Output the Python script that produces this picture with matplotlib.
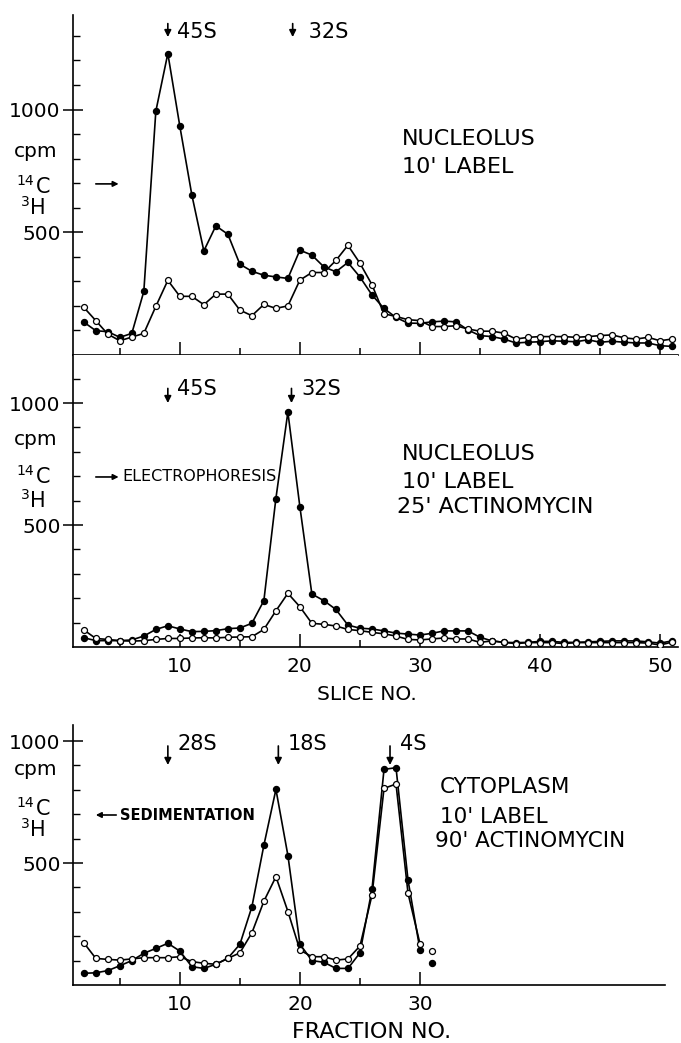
import numpy as np
import matplotlib
matplotlib.use('Agg')
import matplotlib.pyplot as plt

# ---- data (cpm) ----
# nucleolus, 10' label  (slice no. 2..51)
top_x = list(range(2, 52))
top_c14 = [134, 99, 95, 72, 88, 259, 993, 1228, 932, 652, 424, 526, 492, 370, 341, 325, 318, 312,
           427, 407, 359, 339, 377, 318, 245, 190, 153, 130, 129, 135, 138, 135, 102, 79, 75, 65,
           49, 52, 54, 58, 56, 54, 62, 52, 56, 52, 49, 49, 38, 35]
top_h3 = [194, 140, 85, 58, 73, 88, 198, 304, 239, 239, 205, 248, 248, 183, 160, 206, 190, 200,
          305, 336, 336, 385, 447, 374, 287, 168, 157, 144, 140, 116, 116, 119, 106, 97, 97, 89,
          65, 72, 75, 75, 75, 72, 75, 79, 82, 70, 65, 72, 58, 65]

# nucleolus, 10' label, 25' actinomycin
mid_x = list(range(2, 52))
mid_c14 = [38, 26, 26, 26, 29, 45, 72, 87, 74, 63, 64, 67, 75, 78, 97, 190, 608, 963, 575, 217,
           190, 154, 90, 77, 74, 66, 57, 53, 49, 56, 66, 66, 66, 40, 25, 19, 18, 19, 23, 23, 19,
           19, 21, 23, 25, 25, 25, 21, 16, 25]
mid_h3 = [70, 35, 31, 26, 24, 26, 31, 35, 35, 37, 38, 37, 40, 41, 42, 72, 148, 220, 165, 97, 93,
          86, 72, 67, 60, 54, 45, 31, 29, 33, 37, 33, 33, 19, 25, 19, 14, 18, 18, 18, 14, 18, 18,
          18, 18, 18, 18, 16, 8, 20]

# cytoplasm, 10' label, 90' actinomycin (fraction no. 2..30, 31 plotted alone)
bot_x = list(range(2, 31))
bot_c14 = [48, 50, 59, 79, 100, 130, 150, 171, 139, 75, 68, 85, 110, 167, 321, 574, 802, 530,
           167, 100, 93, 68, 68, 132, 393, 884, 891, 430, 143]
bot_h3 = [173, 109, 105, 102, 107, 112, 112, 112, 116, 96, 89, 85, 109, 132, 214, 344, 444, 301,
          143, 116, 116, 102, 107, 160, 369, 806, 824, 376, 168]
bot_last_x = 31
bot_last_c14 = 91
bot_last_h3 = 141

top_peaks = [(9, '45S'), (19.4, ' 32S')]
mid_peaks = [(9, '45S'), (19.3, '32S')]
bot_peaks = [(9, '28S'), (18.2, '18S'), (27.5, '4S')]

W, H = 681, 1043
fig = plt.figure(figsize=(W / 100, H / 100), dpi=100)
plt.rcParams['font.family'] = ['DejaVu Sans']


def box(l, t, r, b):
    return [l / W, 1 - b / H, (r - l) / W, (b - t) / H]


def ftext(px, py, s, **kw):
    fig.text(px / W, 1 - py / H, s, **kw)


def style(ax, xmaj, xmin, ytop, xlabels=True):
    for s in ['top', 'right']:
        ax.spines[s].set_visible(False)
    for s in ['left', 'bottom']:
        ax.spines[s].set_linewidth(1.2)
    ax.set_xticks(xmaj)
    ax.set_xticks(xmin, minor=True)
    ax.set_yticks([500, 1000])
    ax.set_yticks(list(range(100, ytop, 100)), minor=True)
    ax.tick_params(axis='x', which='major', direction='in', length=9.5, width=1.1,
                   labelsize=14.5, pad=7, labelbottom=xlabels)
    ax.tick_params(axis='x', which='minor', direction='in', length=5, width=1.1)
    ax.tick_params(axis='y', which='major', direction='inout', length=14, width=1.1,
                   labelsize=14.5, pad=2)
    ax.tick_params(axis='y', which='minor', direction='in', length=5, width=1.0)


def curves(ax, x, c14, h3):
    ax.plot(x, c14, '-', color='k', lw=1.2, marker='o', ms=4.3, mfc='k', mec='k', zorder=3)
    ax.plot(x, h3, '-', color='k', lw=1.2, marker='o', ms=4.3, mfc='white', mec='k',
            mew=0.9, zorder=4)


def peaks(ax, items, tip, tail, ty, dx):
    for x, lab in items:
        ax.annotate('', xy=(x, tip), xytext=(x, tail), annotation_clip=False,
                    arrowprops=dict(arrowstyle='-|>', color='k', lw=1.2, mutation_scale=10,
                                    shrinkA=0, shrinkB=0))
        ax.text(x + dx, ty, lab, fontsize=15, va='baseline', ha='left', clip_on=False)


def side_arrow(ax, x0, x1, y):
    ax.annotate('', xy=(x1, y), xytext=(x0, y), annotation_clip=False,
                arrowprops=dict(arrowstyle='-|>', color='k', lw=1.2, mutation_scale=8,
                                shrinkA=0, shrinkB=0))


# ---- top panel ----
ax1 = fig.add_axes(box(73, 15, 678, 355))
curves(ax1, top_x, top_c14, top_h3)
ax1.set_xlim(1.1, 51.5)
ax1.set_ylim(0, 1385)
style(ax1, [10, 20, 30, 40, 50], [5, 15, 25, 35, 45], 1385, xlabels=False)
peaks(ax1, top_peaks, 1295, 1350, 1291, 0.75)
side_arrow(ax1, 3.0, 4.9, 697)

# ---- middle panel ----
ax2 = fig.add_axes(box(73, 355, 678, 647))
curves(ax2, mid_x, mid_c14, mid_h3)
ax2.set_xlim(1.1, 51.5)
ax2.set_ylim(0, 1197)
style(ax2, [10, 20, 30, 40, 50], [5, 15, 25, 35, 45], 1197)
peaks(ax2, mid_peaks, 1000, 1060, 1033, 0.8)
side_arrow(ax2, 3.0, 4.9, 697)
ax2.text(5.25, 697, 'ELECTROPHORESIS', fontsize=11.5, va='center', ha='left')

# ---- bottom panel ----
ax3 = fig.add_axes(box(73, 725, 665, 985))
curves(ax3, bot_x, bot_c14, bot_h3)
ax3.plot([bot_last_x], [bot_last_c14], 'o', ms=4.3, mfc='k', mec='k')
ax3.plot([bot_last_x], [bot_last_h3], 'o', ms=4.3, mfc='white', mec='k', mew=0.9)
ax3.set_xlim(1.1, 50.4)
ax3.set_ylim(0, 1066)
style(ax3, [10, 20, 30], [5, 15, 25], 1066)
peaks(ax3, bot_peaks, 902, 980, 963, 0.8)
side_arrow(ax3, 4.7, 3.0, 697)
ax3.text(5.0, 697, 'SEDIMENTATION', fontsize=10.5, fontweight='bold', va='center', ha='left')

# ---- y-axis labels (cpm, 14C, 3H) ----
for cpm_y, c_y, h_y in [(157, 193, 214), (445, 483, 507), (775, 815, 836)]:
    ftext(36, cpm_y, 'cpm', fontsize=14.5, ha='center', va='baseline')
    ftext(16, c_y - 8, '14', fontsize=10, ha='left', va='baseline')
    ftext(36, c_y, 'C', fontsize=15, ha='left', va='baseline')
    ftext(21, h_y - 8, '3', fontsize=10, ha='left', va='baseline')
    ftext(30, h_y, 'H', fontsize=15, ha='left', va='baseline')

# ---- condition labels ----
ftext(402, 145, 'NUCLEOLUS', fontsize=16, va='baseline')
ftext(402, 173, "10' LABEL", fontsize=16, va='baseline')

ftext(402, 460, 'NUCLEOLUS', fontsize=16, va='baseline')
ftext(402, 488, "10' LABEL", fontsize=16, va='baseline')
ftext(397, 513, "25' ACTINOMYCIN", fontsize=16, va='baseline')

ftext(440, 793, 'CYTOPLASM', fontsize=15.5, va='baseline')
ftext(440, 823, "10' LABEL", fontsize=15.5, va='baseline')
ftext(435, 847, "90' ACTINOMYCIN", fontsize=15.5, va='baseline')

# ---- axis titles ----
ftext(367, 695, 'SLICE NO.', fontsize=14.5, ha='center', va='center')
ftext(372, 1032, 'FRACTION NO.', fontsize=16, ha='center', va='center')

fig.savefig('out.png', dpi=100)
